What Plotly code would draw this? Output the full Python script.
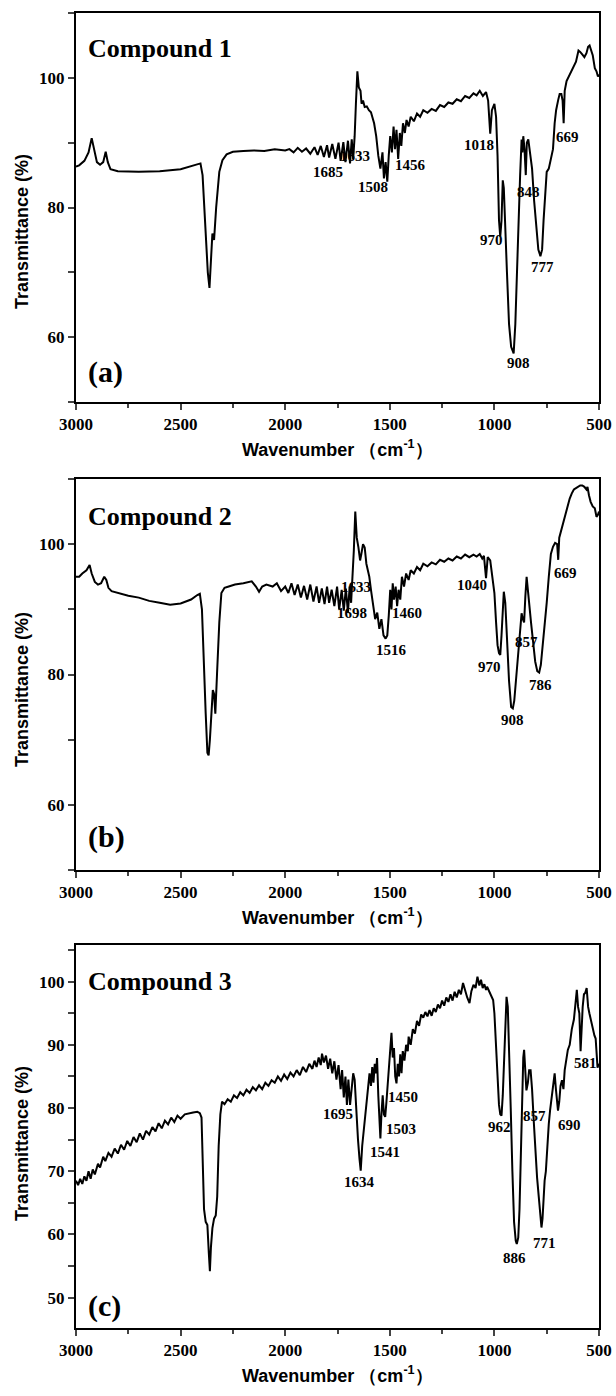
import plotly.graph_objects as go

# ---------------- data ----------------
wn_a = [3000, 2985, 2960, 2940, 2925, 2912, 2900, 2885, 2870, 2858, 2848, 2835, 2800, 2700, 2600, 2500, 2420, 2405,
        2395, 2380, 2370, 2362, 2355, 2348, 2340, 2330, 2315, 2300, 2280, 2250, 2200, 2150, 2100, 2050, 2000, 1980,
        1960, 1940, 1920, 1900, 1880, 1860, 1845, 1830, 1815, 1800, 1790, 1775, 1760, 1745, 1735, 1722, 1712, 1700,
        1690, 1682, 1675, 1668, 1662, 1655, 1648, 1640, 1635, 1628, 1620, 1610, 1600, 1590, 1575, 1565, 1555, 1545,
        1535, 1528, 1520, 1512, 1505, 1498, 1490, 1482, 1475, 1468, 1460, 1452, 1445, 1437, 1428, 1420, 1410, 1400,
        1385, 1370, 1355, 1340, 1320, 1300, 1280, 1260, 1240, 1220, 1200, 1180, 1160, 1140, 1120, 1100, 1085, 1070,
        1055, 1040, 1030, 1020, 1012, 1000, 992, 985, 978, 972, 966, 960, 955, 948, 940, 930, 920, 908, 900, 892,
        885, 877, 870, 866, 862, 856, 850, 845, 838, 830, 820, 810, 800, 790, 780, 772, 765, 758, 750, 740, 730, 720,
        712, 705, 695, 688, 680, 674, 669, 664, 655, 640, 625, 610, 598, 590, 580, 570, 560, 552, 545, 538, 530, 520,
        512, 505, 500]
tr_a = [86.3, 86.5, 87.2, 88.5, 90.7, 88.5, 87.0, 86.6, 87.0, 88.6, 87.0, 85.9, 85.6, 85.5, 85.6, 85.9, 86.6, 86.8,
        85.0, 76.0, 70.0, 67.6, 72.0, 76.0, 75.0, 80.0, 85.5, 87.3, 88.2, 88.6, 88.7, 88.8, 88.7, 89.0, 88.8, 89.0,
        88.5, 89.2, 88.6, 89.1, 88.3, 89.3, 88.1, 89.5, 87.8, 89.6, 87.7, 89.8, 87.5, 90.0, 87.2, 90.1, 87.0, 90.3,
        86.8, 90.5, 87.5, 91.0, 96.0, 101.0, 98.5, 98.0, 96.0, 96.5, 95.5, 95.6, 95.0, 94.7, 93.0, 91.0, 88.0, 86.0,
        88.5, 84.5, 87.0, 84.0, 88.0, 91.0, 88.5, 92.5, 89.0, 92.0, 87.5, 91.5, 89.5, 93.0, 91.5, 93.5, 92.5, 94.0,
        93.3, 94.5, 94.0, 95.0, 94.6, 95.2, 94.9, 95.8, 95.5, 96.2, 96.0, 96.7, 96.4, 97.2, 96.9, 97.6, 97.3, 98.0,
        97.2, 97.8, 96.5, 91.4, 95.0, 96.0, 94.0, 88.0, 78.0, 75.5, 78.0, 84.2, 83.0, 76.0, 70.0, 62.0, 58.5, 57.5,
        62.0, 70.0, 78.0, 85.0, 90.5, 88.5, 91.0, 89.0, 85.0, 90.0, 90.5, 88.5, 86.0, 81.0, 77.0, 73.5, 72.5, 73.5,
        78.0, 82.0, 85.5, 86.0, 87.5, 89.0, 93.0, 95.0, 96.6, 97.5, 97.5, 96.5, 93.0, 98.0, 99.5, 100.5, 101.5, 102.5,
        104.2, 104.0, 103.6, 103.2, 103.8, 104.8, 105.0, 104.2, 103.5, 101.5, 101.0, 100.2, 100.5]

wn_b = [3000, 2985, 2970, 2950, 2935, 2925, 2910, 2895, 2880, 2865, 2855, 2845, 2830, 2800, 2750, 2700, 2650, 2600,
        2550, 2500, 2450, 2420, 2408, 2398, 2390, 2380, 2372, 2366, 2360, 2352, 2346, 2340, 2334, 2326, 2315, 2305,
        2290, 2270, 2240, 2200, 2160, 2140, 2125, 2110, 2090, 2060, 2040, 2020, 2000, 1985, 1970, 1955, 1940, 1925,
        1910, 1895, 1880, 1865, 1850, 1838, 1825, 1812, 1800, 1790, 1778, 1765, 1752, 1742, 1730, 1720, 1710, 1700,
        1692, 1685, 1678, 1672, 1665, 1658, 1650, 1642, 1636, 1628, 1620, 1612, 1605, 1598, 1590, 1580, 1570, 1560,
        1550, 1540, 1530, 1520, 1512, 1505, 1498, 1492, 1486, 1480, 1472, 1465, 1458, 1450, 1442, 1432, 1422, 1410,
        1400, 1385, 1370, 1355, 1340, 1320, 1300, 1280, 1260, 1240, 1220, 1200, 1180, 1160, 1140, 1120, 1100, 1085,
        1070, 1058, 1050, 1040, 1032, 1020, 1010, 1000, 992, 985, 978, 972, 966, 960, 955, 948, 940, 930, 920, 912,
        905, 895, 885, 876, 870, 864, 858, 852, 846, 840, 833, 825, 815, 805, 795, 786, 778, 770, 760, 750, 740, 730,
        720, 710, 700, 695, 690, 680, 670, 660, 650, 640, 630, 620, 610, 600, 590, 580, 570, 560, 555, 548, 540, 530,
        520, 512, 505, 500]
tr_b = [95.0, 95.0, 95.5, 96.0, 96.8, 95.5, 94.2, 93.8, 94.0, 95.0, 94.5, 93.3, 92.8, 92.5, 92.1, 91.8, 91.3, 91.0,
        90.7, 90.9, 91.5, 92.2, 92.4, 90.0, 82.0, 74.0, 68.0, 67.6, 70.0, 74.0, 77.6, 77.0, 74.0, 80.0, 88.0, 92.5,
        93.3, 93.5, 93.8, 94.0, 94.3, 93.5, 92.7, 93.5, 93.8, 93.5, 94.0, 92.8, 93.5, 92.5, 94.0, 92.2, 93.8, 91.8,
        93.6, 91.5, 93.8, 91.2, 93.5, 91.0, 93.2, 90.8, 93.5, 91.0, 93.0, 90.5, 93.5, 90.0, 93.0, 89.8, 93.2, 89.5,
        93.5, 91.0, 95.0, 99.0, 105.0, 101.0, 99.5, 97.5, 98.5, 100.0, 99.5, 97.0, 96.0, 95.0, 93.0, 90.5, 88.5, 89.5,
        87.0, 88.5, 86.0, 85.5, 86.0, 89.0, 93.0, 90.0, 94.0, 91.5, 93.5, 90.5, 93.0, 91.5, 95.0, 93.5, 95.5, 94.5,
        96.0, 95.5, 96.5, 96.0, 97.0, 96.6, 97.2, 96.9, 97.6, 97.3, 97.8, 97.5, 98.1, 97.8, 98.4, 98.0, 98.4, 98.1,
        98.5, 97.8, 98.2, 94.8, 98.0, 97.5, 95.0, 92.5, 88.0, 84.5, 83.3, 83.0, 86.0, 90.0, 92.7, 91.0, 86.0, 79.0,
        75.0, 74.8, 76.0, 80.0, 84.0, 88.0, 89.4, 88.5, 88.0, 92.0, 95.0, 93.0, 90.0, 88.0, 85.0, 82.0, 80.5, 80.3,
        81.5, 84.0, 88.0, 91.0, 95.0, 98.5, 99.6, 100.2, 100.0, 97.6, 101.0, 102.2, 103.5, 105.0, 106.0, 107.0, 107.8,
        108.4, 108.6, 108.8, 109.0, 109.0, 108.8, 108.4, 108.8, 107.5, 106.5, 105.8, 105.5, 104.2, 104.5, 105.0]

wn_c = [3000, 2990, 2980, 2970, 2960, 2950, 2940, 2930, 2920, 2910, 2895, 2885, 2870, 2860, 2845, 2830, 2815, 2800,
        2785, 2770, 2755, 2740, 2725, 2710, 2695, 2680, 2665, 2650, 2635, 2620, 2605, 2590, 2575, 2560, 2545, 2530,
        2515, 2500, 2480, 2460, 2440, 2420, 2408, 2400, 2394, 2388, 2380, 2372, 2365, 2360, 2355, 2348, 2340, 2332,
        2325, 2318, 2310, 2302, 2290, 2275, 2260, 2245, 2230, 2215, 2200, 2185, 2170, 2155, 2140, 2125, 2110, 2095,
        2080, 2065, 2050, 2035, 2020, 2005, 1990, 1975, 1960, 1945, 1930, 1915, 1900, 1885, 1870, 1860, 1850, 1840,
        1830, 1824, 1815, 1805, 1795, 1785, 1775, 1765, 1755, 1745, 1735, 1728, 1720, 1712, 1705, 1698, 1690, 1682,
        1675, 1668, 1660, 1652, 1645, 1639, 1632, 1625, 1618, 1610, 1603, 1597, 1590, 1584, 1578, 1572, 1566, 1561,
        1555, 1550, 1545, 1540, 1534, 1528, 1522, 1516, 1510, 1504, 1498, 1492, 1486, 1480, 1474, 1468, 1462, 1456,
        1450, 1444, 1438, 1430, 1422, 1414, 1410, 1400, 1390, 1380, 1370, 1360, 1350, 1340, 1330, 1320, 1310, 1300,
        1290, 1280, 1270, 1260, 1250, 1240, 1230, 1220, 1210, 1200, 1190, 1180, 1170, 1160, 1150, 1140, 1130, 1119,
        1110, 1100, 1090, 1081, 1072, 1064, 1056, 1048, 1040, 1035, 1025, 1015, 1006, 1000, 992, 985, 978, 972, 966,
        960, 954, 948, 942, 936, 930, 922, 914, 906, 898, 893, 886, 880, 874, 868, 862, 858, 852, 847, 840, 834, 827,
        820, 812, 804, 796, 788, 780, 775, 770, 765, 760, 754, 748, 740, 734, 726, 718, 712, 706, 700, 696, 690, 684,
        677, 670, 664, 656, 649, 640, 630, 620, 612, 606, 600, 594, 588, 584, 578, 572, 566, 559, 552, 546, 540, 536,
        528, 522, 516, 511, 507, 503, 500]
tr_c = [68.5, 67.8, 68.8, 68.0, 69.2, 68.5, 70.0, 68.8, 70.3, 69.5, 71.2, 70.6, 72.3, 71.6, 72.9, 72.3, 73.6, 72.8,
        74.2, 73.4, 74.8, 74.0, 75.4, 74.6, 76.0, 75.0, 76.4, 75.8, 77.0, 76.3, 77.6, 76.8, 78.0, 77.4, 78.5, 77.8,
        78.8, 78.3, 79.0, 79.2, 79.3, 79.4, 79.2, 78.5, 72.0, 64.0, 62.0, 61.5, 57.0, 54.2, 58.0, 61.0, 62.5, 63.0,
        66.0, 74.0, 79.0, 81.0, 80.6, 81.4, 81.0, 82.0, 81.6, 82.5, 82.0, 82.9, 82.4, 83.3, 82.8, 83.6, 83.0, 84.0,
        83.5, 84.4, 84.0, 85.0, 84.3, 85.3, 84.6, 85.6, 85.0, 86.0, 85.2, 86.5, 85.7, 87.0, 86.2, 87.5, 86.5, 88.0,
        86.8, 88.6, 87.2, 88.3, 86.2, 87.8, 85.5, 87.4, 84.5, 86.8, 83.0, 86.0, 81.7, 85.0, 80.5, 84.5, 80.5, 83.5,
        85.5, 84.5, 79.0, 75.0, 72.0, 70.1, 74.0, 76.5, 79.0, 82.0, 84.5, 85.5, 83.5, 86.5, 84.0, 87.0, 85.5, 87.9,
        82.0, 78.0, 75.2, 79.0, 82.0, 79.0, 78.6, 81.0, 84.0, 87.0, 90.0, 91.9, 88.0, 89.5, 85.0, 83.9, 87.0, 85.0,
        88.5, 85.5, 89.0, 87.5, 90.0, 89.0, 91.3, 90.0, 92.5, 91.8, 93.8, 93.0, 94.8, 94.3, 95.2, 94.5, 95.5, 94.6,
        95.8, 95.2, 96.4, 95.8, 97.0, 96.2, 97.5, 96.8, 98.0, 97.0, 98.4, 97.5, 98.7, 98.0, 99.8, 98.5, 97.5, 96.6,
        98.5, 99.5, 99.0, 100.8, 99.4, 100.3, 99.0, 99.6, 98.7, 99.2, 98.5, 98.0, 97.1, 95.0, 90.0, 85.0, 80.5, 79.0,
        78.8, 82.0, 88.0, 94.0, 97.6, 96.0, 90.0, 80.0, 70.0, 62.0, 59.0, 58.5, 59.5, 64.0, 72.0, 82.0, 88.0, 89.2,
        86.0, 82.8, 84.0, 86.0, 86.0, 83.0, 78.0, 73.0, 69.0, 66.0, 63.0, 61.1, 62.5, 66.0, 68.5, 70.0, 74.0, 77.5,
        79.6, 82.0, 84.0, 85.5, 83.0, 81.5, 79.6, 81.0, 83.5, 84.4, 83.0, 86.0, 88.0, 89.2, 90.0, 92.5, 94.0, 97.0,
        98.7, 96.0, 95.0, 89.0, 93.0, 96.0, 98.0, 98.2, 99.0, 96.0, 95.0, 94.0, 93.9, 92.0, 91.5, 91.0, 89.0, 86.4,
        86.8, 87.0]

# peak labels: text and the (wavenumber, transmittance) point where each label sits
lab_a = ["1685", "1633", "1508", "1456", "1018", "970", "848", "777", "908", "669"]
lab_a_x = [1795, 1668, 1579, 1401, 1072, 1016, 837, 772, 884, 649]
lab_a_y = [85.5, 88.0, 83.2, 86.5, 89.6, 75.0, 82.4, 70.9, 56.0, 90.9]

lab_b = ["1698", "1633", "1516", "1460", "1040", "970", "857", "786", "908", "669"]
lab_b_x = [1682, 1660, 1494, 1420, 1109, 1025, 847, 781, 912, 659]
lab_b_y = [89.4, 93.5, 83.8, 89.4, 93.7, 81.2, 85.0, 78.4, 73.0, 95.5]

lab_c = ["1695", "1634", "1541", "1503", "1450", "962", "857", "690", "581", "886", "771"]
lab_c_x = [1748, 1645, 1523, 1447, 1438, 978, 809, 640, 565, 903, 762]
lab_c_y = [79.1, 68.3, 73.0, 76.7, 81.7, 77.0, 78.8, 77.3, 87.1, 56.3, 58.7]

names = ["Compound 1", "Compound 2", "Compound 3"]
tags = ["(a)", "(b)", "(c)"]
x_ticks = [3000, 2500, 2000, 1500, 1000, 500]

# ---------------- layout geometry (pixels) ----------------
W, H = 616, 1396
frame_x = (76, 599)
frames_y = [(13, 402), (479, 870), (945, 1328)]
y_ranges = [(50, 110), (50, 110), (45.2, 105.8)]
y_dticks = [(20, 10), (20, 10), (10, 5)]
ytitle_cy = [232, 690, 1144]
name_y = [104.6, 104.2, 100.0]
tag_y = [54.6, 55.1, 48.7]

SERIF = "Liberation Serif, Times New Roman, serif"
SANS = "Liberation Sans, Arial, sans-serif"


def px(x):
    return x / W


def py(y):
    return 1 - y / H


fig = go.Figure()
series = [(wn_a, tr_a), (wn_b, tr_b), (wn_c, tr_c)]
labels = [(lab_a, lab_a_x, lab_a_y), (lab_b, lab_b_x, lab_b_y), (lab_c, lab_c_x, lab_c_y)]
annotations = []
layout = {}
for i in range(3):
    n = "" if i == 0 else str(i + 1)
    wn, tr = series[i]
    fig.add_trace(go.Scatter(x=wn, y=tr, mode="lines", line=dict(color="black", width=2),
                             xaxis="x" + n, yaxis="y" + n, showlegend=False, hoverinfo="skip"))
    top, bot = frames_y[i]
    layout["xaxis" + n] = dict(
        domain=[px(frame_x[0]), px(frame_x[1])], anchor="y" + n,
        range=[3000, 500], tickvals=x_ticks, ticks="outside", ticklen=6, tickwidth=2,
        minor=dict(ticks="outside", ticklen=4, tickwidth=2, dtick=250, tick0=500, showgrid=False),
        showline=True, linewidth=2, linecolor="black", mirror=True, showgrid=False, zeroline=False,
        tickfont=dict(family=SERIF, size=17, color="black", weight="bold"), automargin=False)
    d_major, d_minor = y_dticks[i]
    layout["yaxis" + n] = dict(
        domain=[py(bot), py(top)], anchor="x" + n,
        range=list(y_ranges[i]), dtick=d_major, tick0=0, ticks="outside", ticklen=6, tickwidth=2,
        minor=dict(ticks="outside", ticklen=6, tickwidth=2, dtick=d_minor, tick0=0, showgrid=False),
        showline=True, linewidth=2, linecolor="black", mirror=True, showgrid=False, zeroline=False,
        tickfont=dict(family=SERIF, size=17, color="black", weight="bold"), automargin=False)

    # axis titles
    annotations.append(dict(text="Wavenumber （cm<sup>-1</sup>）", x=px((frame_x[0] + frame_x[1]) / 2),
                            y=py(bot + 46), xref="paper", yref="paper", showarrow=False,
                            xanchor="center", yanchor="middle",
                            font=dict(family=SANS, size=18, color="black", weight="bold")))
    annotations.append(dict(text="Transmittance (%)", x=px(22), y=py(ytitle_cy[i]), xref="paper",
                            yref="paper", showarrow=False, textangle=-90, xanchor="center",
                            yanchor="middle", font=dict(family=SANS, size=18, color="black", weight="bold")))
    # panel texts
    annotations.append(dict(text=names[i], x=2950, y=name_y[i], xref="x" + n, yref="y" + n,
                            showarrow=False, xanchor="left", yanchor="middle",
                            font=dict(family=SERIF, size=26, color="black", weight="bold")))
    annotations.append(dict(text=tags[i], x=2950, y=tag_y[i], xref="x" + n, yref="y" + n,
                            showarrow=False, xanchor="left", yanchor="middle",
                            font=dict(family=SERIF, size=30, color="black", weight="bold")))
    txt, lx, ly = labels[i]
    for t, xx, yy in zip(txt, lx, ly):
        annotations.append(dict(text=t, x=xx, y=yy, xref="x" + n, yref="y" + n, showarrow=False,
                                xanchor="center", yanchor="middle",
                                font=dict(family=SERIF, size=15, color="black", weight="bold")))

fig.update_layout(width=W, height=H, margin=dict(l=0, r=0, t=0, b=0),
                  paper_bgcolor="white", plot_bgcolor="white", annotations=annotations, **layout)
fig.write_html("out.html")
